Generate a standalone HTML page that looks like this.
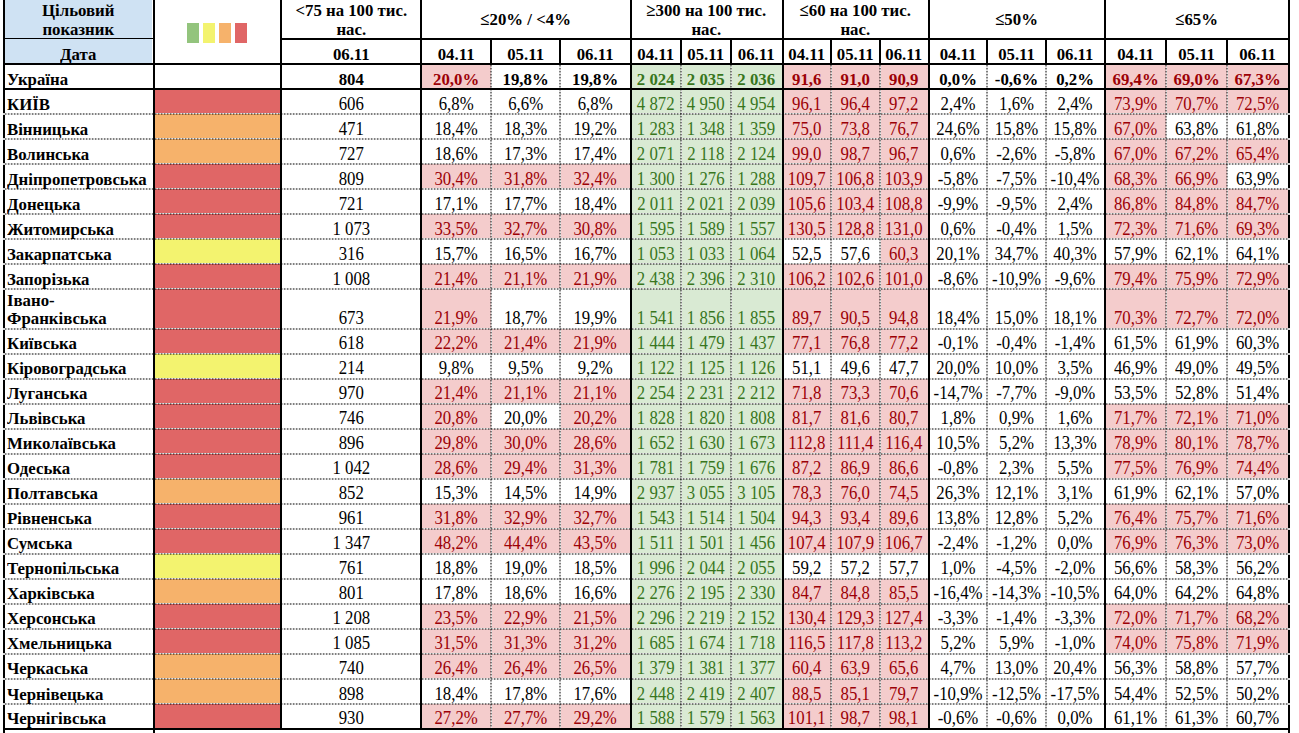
<!DOCTYPE html><html><head><meta charset="utf-8"><style>
html,body{margin:0;padding:0;background:#fff;width:1299px;height:733px;overflow:hidden;position:relative}
.f{position:absolute}
.l{position:absolute;background:#000}
.dh{position:absolute;height:2px;background:repeating-linear-gradient(90deg,rgba(0,0,0,.5) 0 1px,rgba(0,0,0,.25) 1px 2px,rgba(0,0,0,.1) 2px 3px)}
.dv{position:absolute;width:2px;background:repeating-linear-gradient(180deg,rgba(0,0,0,.5) 0 1px,rgba(0,0,0,.25) 1px 2px,rgba(0,0,0,.1) 2px 3px)}
.t{position:absolute;font-family:"Liberation Serif",serif;font-size:16.8px;line-height:20px;height:20px;white-space:nowrap;color:#000}
.c{text-align:center}
.t{transform:scaleY(1.1);transform-origin:0 15px}
.t.b{transform:scaleY(1.05)}
.b{font-weight:bold}
.rt{color:#9c0006}.gt{color:#38761d}
</style></head><body>
<div class="f" style="left:5px;top:0px;width:147px;height:38px;background:#cfe2f3"></div>
<div class="f" style="left:5px;top:39px;width:147px;height:24px;background:#cfe2f3"></div>
<div class="f" style="left:187px;top:23px;width:12px;height:20px;background:#93c47d"></div>
<div class="f" style="left:203px;top:23px;width:12px;height:20px;background:#f3f36f"></div>
<div class="f" style="left:219px;top:23px;width:12px;height:20px;background:#f6b26b"></div>
<div class="f" style="left:235px;top:23px;width:12px;height:20px;background:#e06666"></div>
<div class="f" style="left:422px;top:65px;width:69px;height:23px;background:#f4cccc"></div>
<div class="f" style="left:632px;top:65px;width:49px;height:23px;background:#d9ead3"></div>
<div class="f" style="left:784px;top:65px;width:47px;height:23px;background:#f4cccc"></div>
<div class="f" style="left:1106px;top:65px;width:60px;height:23px;background:#f4cccc"></div>
<div class="f" style="left:682px;top:65px;width:49px;height:23px;background:#d9ead3"></div>
<div class="f" style="left:832px;top:65px;width:48px;height:23px;background:#f4cccc"></div>
<div class="f" style="left:1167px;top:65px;width:60px;height:23px;background:#f4cccc"></div>
<div class="f" style="left:732px;top:65px;width:50px;height:23px;background:#d9ead3"></div>
<div class="f" style="left:881px;top:65px;width:47px;height:23px;background:#f4cccc"></div>
<div class="f" style="left:1228px;top:65px;width:60px;height:23px;background:#f4cccc"></div>
<div class="f" style="left:155px;top:90px;width:125px;height:23px;background:#e06666"></div>
<div class="f" style="left:632px;top:90px;width:49px;height:23px;background:#d9ead3"></div>
<div class="f" style="left:784px;top:90px;width:47px;height:23px;background:#f4cccc"></div>
<div class="f" style="left:1106px;top:90px;width:60px;height:23px;background:#f4cccc"></div>
<div class="f" style="left:682px;top:90px;width:49px;height:23px;background:#d9ead3"></div>
<div class="f" style="left:832px;top:90px;width:48px;height:23px;background:#f4cccc"></div>
<div class="f" style="left:1167px;top:90px;width:60px;height:23px;background:#f4cccc"></div>
<div class="f" style="left:732px;top:90px;width:50px;height:23px;background:#d9ead3"></div>
<div class="f" style="left:881px;top:90px;width:47px;height:23px;background:#f4cccc"></div>
<div class="f" style="left:1228px;top:90px;width:60px;height:23px;background:#f4cccc"></div>
<div class="f" style="left:155px;top:114px;width:125px;height:24px;background:#f6b26b"></div>
<div class="f" style="left:632px;top:114px;width:49px;height:24px;background:#d9ead3"></div>
<div class="f" style="left:784px;top:114px;width:47px;height:24px;background:#f4cccc"></div>
<div class="f" style="left:1106px;top:114px;width:60px;height:24px;background:#f4cccc"></div>
<div class="f" style="left:682px;top:114px;width:49px;height:24px;background:#d9ead3"></div>
<div class="f" style="left:832px;top:114px;width:48px;height:24px;background:#f4cccc"></div>
<div class="f" style="left:732px;top:114px;width:50px;height:24px;background:#d9ead3"></div>
<div class="f" style="left:881px;top:114px;width:47px;height:24px;background:#f4cccc"></div>
<div class="f" style="left:155px;top:139px;width:125px;height:24px;background:#f6b26b"></div>
<div class="f" style="left:632px;top:139px;width:49px;height:24px;background:#d9ead3"></div>
<div class="f" style="left:784px;top:139px;width:47px;height:24px;background:#f4cccc"></div>
<div class="f" style="left:1106px;top:139px;width:60px;height:24px;background:#f4cccc"></div>
<div class="f" style="left:682px;top:139px;width:49px;height:24px;background:#d9ead3"></div>
<div class="f" style="left:832px;top:139px;width:48px;height:24px;background:#f4cccc"></div>
<div class="f" style="left:1167px;top:139px;width:60px;height:24px;background:#f4cccc"></div>
<div class="f" style="left:732px;top:139px;width:50px;height:24px;background:#d9ead3"></div>
<div class="f" style="left:881px;top:139px;width:47px;height:24px;background:#f4cccc"></div>
<div class="f" style="left:1228px;top:139px;width:60px;height:24px;background:#f4cccc"></div>
<div class="f" style="left:155px;top:164px;width:125px;height:24px;background:#e06666"></div>
<div class="f" style="left:422px;top:164px;width:69px;height:24px;background:#f4cccc"></div>
<div class="f" style="left:632px;top:164px;width:49px;height:24px;background:#d9ead3"></div>
<div class="f" style="left:784px;top:164px;width:47px;height:24px;background:#f4cccc"></div>
<div class="f" style="left:1106px;top:164px;width:60px;height:24px;background:#f4cccc"></div>
<div class="f" style="left:492px;top:164px;width:68px;height:24px;background:#f4cccc"></div>
<div class="f" style="left:682px;top:164px;width:49px;height:24px;background:#d9ead3"></div>
<div class="f" style="left:832px;top:164px;width:48px;height:24px;background:#f4cccc"></div>
<div class="f" style="left:1167px;top:164px;width:60px;height:24px;background:#f4cccc"></div>
<div class="f" style="left:561px;top:164px;width:69px;height:24px;background:#f4cccc"></div>
<div class="f" style="left:732px;top:164px;width:50px;height:24px;background:#d9ead3"></div>
<div class="f" style="left:881px;top:164px;width:47px;height:24px;background:#f4cccc"></div>
<div class="f" style="left:155px;top:189px;width:125px;height:24px;background:#e06666"></div>
<div class="f" style="left:632px;top:189px;width:49px;height:24px;background:#d9ead3"></div>
<div class="f" style="left:784px;top:189px;width:47px;height:24px;background:#f4cccc"></div>
<div class="f" style="left:1106px;top:189px;width:60px;height:24px;background:#f4cccc"></div>
<div class="f" style="left:682px;top:189px;width:49px;height:24px;background:#d9ead3"></div>
<div class="f" style="left:832px;top:189px;width:48px;height:24px;background:#f4cccc"></div>
<div class="f" style="left:1167px;top:189px;width:60px;height:24px;background:#f4cccc"></div>
<div class="f" style="left:732px;top:189px;width:50px;height:24px;background:#d9ead3"></div>
<div class="f" style="left:881px;top:189px;width:47px;height:24px;background:#f4cccc"></div>
<div class="f" style="left:1228px;top:189px;width:60px;height:24px;background:#f4cccc"></div>
<div class="f" style="left:155px;top:214px;width:125px;height:24px;background:#e06666"></div>
<div class="f" style="left:422px;top:214px;width:69px;height:24px;background:#f4cccc"></div>
<div class="f" style="left:632px;top:214px;width:49px;height:24px;background:#d9ead3"></div>
<div class="f" style="left:784px;top:214px;width:47px;height:24px;background:#f4cccc"></div>
<div class="f" style="left:1106px;top:214px;width:60px;height:24px;background:#f4cccc"></div>
<div class="f" style="left:492px;top:214px;width:68px;height:24px;background:#f4cccc"></div>
<div class="f" style="left:682px;top:214px;width:49px;height:24px;background:#d9ead3"></div>
<div class="f" style="left:832px;top:214px;width:48px;height:24px;background:#f4cccc"></div>
<div class="f" style="left:1167px;top:214px;width:60px;height:24px;background:#f4cccc"></div>
<div class="f" style="left:561px;top:214px;width:69px;height:24px;background:#f4cccc"></div>
<div class="f" style="left:732px;top:214px;width:50px;height:24px;background:#d9ead3"></div>
<div class="f" style="left:881px;top:214px;width:47px;height:24px;background:#f4cccc"></div>
<div class="f" style="left:1228px;top:214px;width:60px;height:24px;background:#f4cccc"></div>
<div class="f" style="left:155px;top:239px;width:125px;height:24px;background:#f3f36f"></div>
<div class="f" style="left:632px;top:239px;width:49px;height:24px;background:#d9ead3"></div>
<div class="f" style="left:682px;top:239px;width:49px;height:24px;background:#d9ead3"></div>
<div class="f" style="left:732px;top:239px;width:50px;height:24px;background:#d9ead3"></div>
<div class="f" style="left:881px;top:239px;width:47px;height:24px;background:#f4cccc"></div>
<div class="f" style="left:155px;top:264px;width:125px;height:24px;background:#e06666"></div>
<div class="f" style="left:422px;top:264px;width:69px;height:24px;background:#f4cccc"></div>
<div class="f" style="left:632px;top:264px;width:49px;height:24px;background:#d9ead3"></div>
<div class="f" style="left:784px;top:264px;width:47px;height:24px;background:#f4cccc"></div>
<div class="f" style="left:1106px;top:264px;width:60px;height:24px;background:#f4cccc"></div>
<div class="f" style="left:492px;top:264px;width:68px;height:24px;background:#f4cccc"></div>
<div class="f" style="left:682px;top:264px;width:49px;height:24px;background:#d9ead3"></div>
<div class="f" style="left:832px;top:264px;width:48px;height:24px;background:#f4cccc"></div>
<div class="f" style="left:1167px;top:264px;width:60px;height:24px;background:#f4cccc"></div>
<div class="f" style="left:561px;top:264px;width:69px;height:24px;background:#f4cccc"></div>
<div class="f" style="left:732px;top:264px;width:50px;height:24px;background:#d9ead3"></div>
<div class="f" style="left:881px;top:264px;width:47px;height:24px;background:#f4cccc"></div>
<div class="f" style="left:1228px;top:264px;width:60px;height:24px;background:#f4cccc"></div>
<div class="f" style="left:155px;top:289px;width:125px;height:39px;background:#e06666"></div>
<div class="f" style="left:422px;top:289px;width:69px;height:39px;background:#f4cccc"></div>
<div class="f" style="left:632px;top:289px;width:49px;height:39px;background:#d9ead3"></div>
<div class="f" style="left:784px;top:289px;width:47px;height:39px;background:#f4cccc"></div>
<div class="f" style="left:1106px;top:289px;width:60px;height:39px;background:#f4cccc"></div>
<div class="f" style="left:682px;top:289px;width:49px;height:39px;background:#d9ead3"></div>
<div class="f" style="left:832px;top:289px;width:48px;height:39px;background:#f4cccc"></div>
<div class="f" style="left:1167px;top:289px;width:60px;height:39px;background:#f4cccc"></div>
<div class="f" style="left:732px;top:289px;width:50px;height:39px;background:#d9ead3"></div>
<div class="f" style="left:881px;top:289px;width:47px;height:39px;background:#f4cccc"></div>
<div class="f" style="left:1228px;top:289px;width:60px;height:39px;background:#f4cccc"></div>
<div class="f" style="left:155px;top:329px;width:125px;height:24px;background:#e06666"></div>
<div class="f" style="left:422px;top:329px;width:69px;height:24px;background:#f4cccc"></div>
<div class="f" style="left:632px;top:329px;width:49px;height:24px;background:#d9ead3"></div>
<div class="f" style="left:784px;top:329px;width:47px;height:24px;background:#f4cccc"></div>
<div class="f" style="left:492px;top:329px;width:68px;height:24px;background:#f4cccc"></div>
<div class="f" style="left:682px;top:329px;width:49px;height:24px;background:#d9ead3"></div>
<div class="f" style="left:832px;top:329px;width:48px;height:24px;background:#f4cccc"></div>
<div class="f" style="left:561px;top:329px;width:69px;height:24px;background:#f4cccc"></div>
<div class="f" style="left:732px;top:329px;width:50px;height:24px;background:#d9ead3"></div>
<div class="f" style="left:881px;top:329px;width:47px;height:24px;background:#f4cccc"></div>
<div class="f" style="left:155px;top:354px;width:125px;height:24px;background:#f3f36f"></div>
<div class="f" style="left:632px;top:354px;width:49px;height:24px;background:#d9ead3"></div>
<div class="f" style="left:682px;top:354px;width:49px;height:24px;background:#d9ead3"></div>
<div class="f" style="left:732px;top:354px;width:50px;height:24px;background:#d9ead3"></div>
<div class="f" style="left:155px;top:379px;width:125px;height:24px;background:#e06666"></div>
<div class="f" style="left:422px;top:379px;width:69px;height:24px;background:#f4cccc"></div>
<div class="f" style="left:632px;top:379px;width:49px;height:24px;background:#d9ead3"></div>
<div class="f" style="left:784px;top:379px;width:47px;height:24px;background:#f4cccc"></div>
<div class="f" style="left:492px;top:379px;width:68px;height:24px;background:#f4cccc"></div>
<div class="f" style="left:682px;top:379px;width:49px;height:24px;background:#d9ead3"></div>
<div class="f" style="left:832px;top:379px;width:48px;height:24px;background:#f4cccc"></div>
<div class="f" style="left:561px;top:379px;width:69px;height:24px;background:#f4cccc"></div>
<div class="f" style="left:732px;top:379px;width:50px;height:24px;background:#d9ead3"></div>
<div class="f" style="left:881px;top:379px;width:47px;height:24px;background:#f4cccc"></div>
<div class="f" style="left:155px;top:404px;width:125px;height:24px;background:#e06666"></div>
<div class="f" style="left:422px;top:404px;width:69px;height:24px;background:#f4cccc"></div>
<div class="f" style="left:632px;top:404px;width:49px;height:24px;background:#d9ead3"></div>
<div class="f" style="left:784px;top:404px;width:47px;height:24px;background:#f4cccc"></div>
<div class="f" style="left:1106px;top:404px;width:60px;height:24px;background:#f4cccc"></div>
<div class="f" style="left:682px;top:404px;width:49px;height:24px;background:#d9ead3"></div>
<div class="f" style="left:832px;top:404px;width:48px;height:24px;background:#f4cccc"></div>
<div class="f" style="left:1167px;top:404px;width:60px;height:24px;background:#f4cccc"></div>
<div class="f" style="left:561px;top:404px;width:69px;height:24px;background:#f4cccc"></div>
<div class="f" style="left:732px;top:404px;width:50px;height:24px;background:#d9ead3"></div>
<div class="f" style="left:881px;top:404px;width:47px;height:24px;background:#f4cccc"></div>
<div class="f" style="left:1228px;top:404px;width:60px;height:24px;background:#f4cccc"></div>
<div class="f" style="left:155px;top:429px;width:125px;height:24px;background:#e06666"></div>
<div class="f" style="left:422px;top:429px;width:69px;height:24px;background:#f4cccc"></div>
<div class="f" style="left:632px;top:429px;width:49px;height:24px;background:#d9ead3"></div>
<div class="f" style="left:784px;top:429px;width:47px;height:24px;background:#f4cccc"></div>
<div class="f" style="left:1106px;top:429px;width:60px;height:24px;background:#f4cccc"></div>
<div class="f" style="left:492px;top:429px;width:68px;height:24px;background:#f4cccc"></div>
<div class="f" style="left:682px;top:429px;width:49px;height:24px;background:#d9ead3"></div>
<div class="f" style="left:832px;top:429px;width:48px;height:24px;background:#f4cccc"></div>
<div class="f" style="left:1167px;top:429px;width:60px;height:24px;background:#f4cccc"></div>
<div class="f" style="left:561px;top:429px;width:69px;height:24px;background:#f4cccc"></div>
<div class="f" style="left:732px;top:429px;width:50px;height:24px;background:#d9ead3"></div>
<div class="f" style="left:881px;top:429px;width:47px;height:24px;background:#f4cccc"></div>
<div class="f" style="left:1228px;top:429px;width:60px;height:24px;background:#f4cccc"></div>
<div class="f" style="left:155px;top:454px;width:125px;height:24px;background:#e06666"></div>
<div class="f" style="left:422px;top:454px;width:69px;height:24px;background:#f4cccc"></div>
<div class="f" style="left:632px;top:454px;width:49px;height:24px;background:#d9ead3"></div>
<div class="f" style="left:784px;top:454px;width:47px;height:24px;background:#f4cccc"></div>
<div class="f" style="left:1106px;top:454px;width:60px;height:24px;background:#f4cccc"></div>
<div class="f" style="left:492px;top:454px;width:68px;height:24px;background:#f4cccc"></div>
<div class="f" style="left:682px;top:454px;width:49px;height:24px;background:#d9ead3"></div>
<div class="f" style="left:832px;top:454px;width:48px;height:24px;background:#f4cccc"></div>
<div class="f" style="left:1167px;top:454px;width:60px;height:24px;background:#f4cccc"></div>
<div class="f" style="left:561px;top:454px;width:69px;height:24px;background:#f4cccc"></div>
<div class="f" style="left:732px;top:454px;width:50px;height:24px;background:#d9ead3"></div>
<div class="f" style="left:881px;top:454px;width:47px;height:24px;background:#f4cccc"></div>
<div class="f" style="left:1228px;top:454px;width:60px;height:24px;background:#f4cccc"></div>
<div class="f" style="left:155px;top:479px;width:125px;height:24px;background:#f6b26b"></div>
<div class="f" style="left:632px;top:479px;width:49px;height:24px;background:#d9ead3"></div>
<div class="f" style="left:784px;top:479px;width:47px;height:24px;background:#f4cccc"></div>
<div class="f" style="left:682px;top:479px;width:49px;height:24px;background:#d9ead3"></div>
<div class="f" style="left:832px;top:479px;width:48px;height:24px;background:#f4cccc"></div>
<div class="f" style="left:732px;top:479px;width:50px;height:24px;background:#d9ead3"></div>
<div class="f" style="left:881px;top:479px;width:47px;height:24px;background:#f4cccc"></div>
<div class="f" style="left:155px;top:504px;width:125px;height:24px;background:#e06666"></div>
<div class="f" style="left:422px;top:504px;width:69px;height:24px;background:#f4cccc"></div>
<div class="f" style="left:632px;top:504px;width:49px;height:24px;background:#d9ead3"></div>
<div class="f" style="left:784px;top:504px;width:47px;height:24px;background:#f4cccc"></div>
<div class="f" style="left:1106px;top:504px;width:60px;height:24px;background:#f4cccc"></div>
<div class="f" style="left:492px;top:504px;width:68px;height:24px;background:#f4cccc"></div>
<div class="f" style="left:682px;top:504px;width:49px;height:24px;background:#d9ead3"></div>
<div class="f" style="left:832px;top:504px;width:48px;height:24px;background:#f4cccc"></div>
<div class="f" style="left:1167px;top:504px;width:60px;height:24px;background:#f4cccc"></div>
<div class="f" style="left:561px;top:504px;width:69px;height:24px;background:#f4cccc"></div>
<div class="f" style="left:732px;top:504px;width:50px;height:24px;background:#d9ead3"></div>
<div class="f" style="left:881px;top:504px;width:47px;height:24px;background:#f4cccc"></div>
<div class="f" style="left:1228px;top:504px;width:60px;height:24px;background:#f4cccc"></div>
<div class="f" style="left:155px;top:529px;width:125px;height:24px;background:#e06666"></div>
<div class="f" style="left:422px;top:529px;width:69px;height:24px;background:#f4cccc"></div>
<div class="f" style="left:632px;top:529px;width:49px;height:24px;background:#d9ead3"></div>
<div class="f" style="left:784px;top:529px;width:47px;height:24px;background:#f4cccc"></div>
<div class="f" style="left:1106px;top:529px;width:60px;height:24px;background:#f4cccc"></div>
<div class="f" style="left:492px;top:529px;width:68px;height:24px;background:#f4cccc"></div>
<div class="f" style="left:682px;top:529px;width:49px;height:24px;background:#d9ead3"></div>
<div class="f" style="left:832px;top:529px;width:48px;height:24px;background:#f4cccc"></div>
<div class="f" style="left:1167px;top:529px;width:60px;height:24px;background:#f4cccc"></div>
<div class="f" style="left:561px;top:529px;width:69px;height:24px;background:#f4cccc"></div>
<div class="f" style="left:732px;top:529px;width:50px;height:24px;background:#d9ead3"></div>
<div class="f" style="left:881px;top:529px;width:47px;height:24px;background:#f4cccc"></div>
<div class="f" style="left:1228px;top:529px;width:60px;height:24px;background:#f4cccc"></div>
<div class="f" style="left:155px;top:554px;width:125px;height:24px;background:#f3f36f"></div>
<div class="f" style="left:632px;top:554px;width:49px;height:24px;background:#d9ead3"></div>
<div class="f" style="left:682px;top:554px;width:49px;height:24px;background:#d9ead3"></div>
<div class="f" style="left:732px;top:554px;width:50px;height:24px;background:#d9ead3"></div>
<div class="f" style="left:155px;top:579px;width:125px;height:24px;background:#f6b26b"></div>
<div class="f" style="left:632px;top:579px;width:49px;height:24px;background:#d9ead3"></div>
<div class="f" style="left:784px;top:579px;width:47px;height:24px;background:#f4cccc"></div>
<div class="f" style="left:682px;top:579px;width:49px;height:24px;background:#d9ead3"></div>
<div class="f" style="left:832px;top:579px;width:48px;height:24px;background:#f4cccc"></div>
<div class="f" style="left:732px;top:579px;width:50px;height:24px;background:#d9ead3"></div>
<div class="f" style="left:881px;top:579px;width:47px;height:24px;background:#f4cccc"></div>
<div class="f" style="left:155px;top:604px;width:125px;height:24px;background:#e06666"></div>
<div class="f" style="left:422px;top:604px;width:69px;height:24px;background:#f4cccc"></div>
<div class="f" style="left:632px;top:604px;width:49px;height:24px;background:#d9ead3"></div>
<div class="f" style="left:784px;top:604px;width:47px;height:24px;background:#f4cccc"></div>
<div class="f" style="left:1106px;top:604px;width:60px;height:24px;background:#f4cccc"></div>
<div class="f" style="left:492px;top:604px;width:68px;height:24px;background:#f4cccc"></div>
<div class="f" style="left:682px;top:604px;width:49px;height:24px;background:#d9ead3"></div>
<div class="f" style="left:832px;top:604px;width:48px;height:24px;background:#f4cccc"></div>
<div class="f" style="left:1167px;top:604px;width:60px;height:24px;background:#f4cccc"></div>
<div class="f" style="left:561px;top:604px;width:69px;height:24px;background:#f4cccc"></div>
<div class="f" style="left:732px;top:604px;width:50px;height:24px;background:#d9ead3"></div>
<div class="f" style="left:881px;top:604px;width:47px;height:24px;background:#f4cccc"></div>
<div class="f" style="left:1228px;top:604px;width:60px;height:24px;background:#f4cccc"></div>
<div class="f" style="left:155px;top:629px;width:125px;height:24px;background:#e06666"></div>
<div class="f" style="left:422px;top:629px;width:69px;height:24px;background:#f4cccc"></div>
<div class="f" style="left:632px;top:629px;width:49px;height:24px;background:#d9ead3"></div>
<div class="f" style="left:784px;top:629px;width:47px;height:24px;background:#f4cccc"></div>
<div class="f" style="left:1106px;top:629px;width:60px;height:24px;background:#f4cccc"></div>
<div class="f" style="left:492px;top:629px;width:68px;height:24px;background:#f4cccc"></div>
<div class="f" style="left:682px;top:629px;width:49px;height:24px;background:#d9ead3"></div>
<div class="f" style="left:832px;top:629px;width:48px;height:24px;background:#f4cccc"></div>
<div class="f" style="left:1167px;top:629px;width:60px;height:24px;background:#f4cccc"></div>
<div class="f" style="left:561px;top:629px;width:69px;height:24px;background:#f4cccc"></div>
<div class="f" style="left:732px;top:629px;width:50px;height:24px;background:#d9ead3"></div>
<div class="f" style="left:881px;top:629px;width:47px;height:24px;background:#f4cccc"></div>
<div class="f" style="left:1228px;top:629px;width:60px;height:24px;background:#f4cccc"></div>
<div class="f" style="left:155px;top:654px;width:125px;height:24px;background:#f6b26b"></div>
<div class="f" style="left:422px;top:654px;width:69px;height:24px;background:#f4cccc"></div>
<div class="f" style="left:632px;top:654px;width:49px;height:24px;background:#d9ead3"></div>
<div class="f" style="left:784px;top:654px;width:47px;height:24px;background:#f4cccc"></div>
<div class="f" style="left:492px;top:654px;width:68px;height:24px;background:#f4cccc"></div>
<div class="f" style="left:682px;top:654px;width:49px;height:24px;background:#d9ead3"></div>
<div class="f" style="left:832px;top:654px;width:48px;height:24px;background:#f4cccc"></div>
<div class="f" style="left:561px;top:654px;width:69px;height:24px;background:#f4cccc"></div>
<div class="f" style="left:732px;top:654px;width:50px;height:24px;background:#d9ead3"></div>
<div class="f" style="left:881px;top:654px;width:47px;height:24px;background:#f4cccc"></div>
<div class="f" style="left:155px;top:679px;width:125px;height:24px;background:#f6b26b"></div>
<div class="f" style="left:632px;top:679px;width:49px;height:24px;background:#d9ead3"></div>
<div class="f" style="left:784px;top:679px;width:47px;height:24px;background:#f4cccc"></div>
<div class="f" style="left:682px;top:679px;width:49px;height:24px;background:#d9ead3"></div>
<div class="f" style="left:832px;top:679px;width:48px;height:24px;background:#f4cccc"></div>
<div class="f" style="left:732px;top:679px;width:50px;height:24px;background:#d9ead3"></div>
<div class="f" style="left:881px;top:679px;width:47px;height:24px;background:#f4cccc"></div>
<div class="f" style="left:155px;top:704px;width:125px;height:24px;background:#e06666"></div>
<div class="f" style="left:422px;top:704px;width:69px;height:24px;background:#f4cccc"></div>
<div class="f" style="left:632px;top:704px;width:49px;height:24px;background:#d9ead3"></div>
<div class="f" style="left:784px;top:704px;width:47px;height:24px;background:#f4cccc"></div>
<div class="f" style="left:492px;top:704px;width:68px;height:24px;background:#f4cccc"></div>
<div class="f" style="left:682px;top:704px;width:49px;height:24px;background:#d9ead3"></div>
<div class="f" style="left:832px;top:704px;width:48px;height:24px;background:#f4cccc"></div>
<div class="f" style="left:561px;top:704px;width:69px;height:24px;background:#f4cccc"></div>
<div class="f" style="left:732px;top:704px;width:50px;height:24px;background:#d9ead3"></div>
<div class="f" style="left:881px;top:704px;width:47px;height:24px;background:#f4cccc"></div>
<div class="dh" style="left:5px;top:113px;width:1283px"></div>
<div class="dh" style="left:5px;top:138px;width:1283px"></div>
<div class="dh" style="left:5px;top:163px;width:1283px"></div>
<div class="dh" style="left:5px;top:188px;width:1283px"></div>
<div class="dh" style="left:5px;top:213px;width:1283px"></div>
<div class="dh" style="left:5px;top:238px;width:1283px"></div>
<div class="dh" style="left:5px;top:263px;width:1283px"></div>
<div class="dh" style="left:5px;top:288px;width:1283px"></div>
<div class="dh" style="left:5px;top:328px;width:1283px"></div>
<div class="dh" style="left:5px;top:353px;width:1283px"></div>
<div class="dh" style="left:5px;top:378px;width:1283px"></div>
<div class="dh" style="left:5px;top:403px;width:1283px"></div>
<div class="dh" style="left:5px;top:428px;width:1283px"></div>
<div class="dh" style="left:5px;top:453px;width:1283px"></div>
<div class="dh" style="left:5px;top:478px;width:1283px"></div>
<div class="dh" style="left:5px;top:503px;width:1283px"></div>
<div class="dh" style="left:5px;top:528px;width:1283px"></div>
<div class="dh" style="left:5px;top:553px;width:1283px"></div>
<div class="dh" style="left:5px;top:578px;width:1283px"></div>
<div class="dh" style="left:5px;top:603px;width:1283px"></div>
<div class="dh" style="left:5px;top:628px;width:1283px"></div>
<div class="dh" style="left:5px;top:653px;width:1283px"></div>
<div class="dh" style="left:5px;top:678px;width:1283px"></div>
<div class="dh" style="left:5px;top:703px;width:1283px"></div>
<div class="dv" style="left:490px;top:65px;height:663px"></div>
<div class="dv" style="left:559px;top:65px;height:663px"></div>
<div class="dv" style="left:680px;top:65px;height:663px"></div>
<div class="dv" style="left:730px;top:65px;height:663px"></div>
<div class="dv" style="left:830px;top:65px;height:663px"></div>
<div class="dv" style="left:879px;top:65px;height:663px"></div>
<div class="dv" style="left:986px;top:65px;height:663px"></div>
<div class="dv" style="left:1045px;top:65px;height:663px"></div>
<div class="dv" style="left:1165px;top:65px;height:663px"></div>
<div class="dv" style="left:1226px;top:65px;height:663px"></div>
<div class="l" style="left:5px;top:38px;width:148px;height:1px"></div>
<div class="l" style="left:282px;top:38px;width:1006px;height:2px"></div>
<div class="l" style="left:3px;top:63px;width:1287px;height:2px"></div>
<div class="l" style="left:3px;top:88px;width:1287px;height:2px"></div>
<div class="l" style="left:3px;top:728px;width:1287px;height:2px"></div>
<div class="l" style="left:3px;top:0px;width:2px;height:733px"></div>
<div class="l" style="left:153px;top:0px;width:2px;height:733px"></div>
<div class="l" style="left:280px;top:0px;width:2px;height:730px"></div>
<div class="l" style="left:420px;top:0px;width:2px;height:730px"></div>
<div class="l" style="left:630px;top:0px;width:2px;height:730px"></div>
<div class="l" style="left:782px;top:0px;width:2px;height:730px"></div>
<div class="l" style="left:928px;top:0px;width:2px;height:730px"></div>
<div class="l" style="left:1104px;top:0px;width:2px;height:730px"></div>
<div class="l" style="left:1288px;top:0px;width:2px;height:733px"></div>
<div class="l" style="left:490px;top:39px;width:2px;height:26px"></div>
<div class="l" style="left:559px;top:39px;width:2px;height:26px"></div>
<div class="l" style="left:680px;top:39px;width:2px;height:26px"></div>
<div class="l" style="left:730px;top:39px;width:2px;height:26px"></div>
<div class="l" style="left:830px;top:39px;width:2px;height:26px"></div>
<div class="l" style="left:879px;top:39px;width:2px;height:26px"></div>
<div class="l" style="left:986px;top:39px;width:2px;height:26px"></div>
<div class="l" style="left:1045px;top:39px;width:2px;height:26px"></div>
<div class="l" style="left:1165px;top:39px;width:2px;height:26px"></div>
<div class="l" style="left:1226px;top:39px;width:2px;height:26px"></div>
<div class="t c b" style="left:4.25px;width:148.0px;top:1px">Цільовий</div>
<div class="t c b" style="left:4.25px;width:148.0px;top:20px">показник</div>
<div class="t c b" style="left:4.25px;width:148.0px;top:45px">Дата</div>
<div class="t c b" style="left:282.3px;width:138.0px;top:1px">&lt;75 на 100 тис.</div>
<div class="t c b" style="left:282.3px;width:138.0px;top:20px">нас.</div>
<div class="t c b" style="left:282.3px;width:138.0px;top:45px">06.11</div>
<div class="t c b" style="left:421.65px;width:208.0px;top:10px">≤20% / &lt;4%</div>
<div class="t c b" style="left:631.25px;width:150.0px;top:1px">≥300 на 100 тис.</div>
<div class="t c b" style="left:631.25px;width:150.0px;top:20px">нас.</div>
<div class="t c b" style="left:783.25px;width:144.0px;top:1px">≤60 на 100 тис.</div>
<div class="t c b" style="left:783.25px;width:144.0px;top:20px">нас.</div>
<div class="t c b" style="left:929.55px;width:174.0px;top:10px">≤50%</div>
<div class="t c b" style="left:1105.6px;width:182.0px;top:10px">≤65%</div>
<div class="t c b" style="left:421.65px;width:69.0px;top:45px">04.11</div>
<div class="t c b" style="left:491.65px;width:68.0px;top:45px">05.11</div>
<div class="t c b" style="left:560.65px;width:69.0px;top:45px">06.11</div>
<div class="t c b" style="left:631.25px;width:49.0px;top:45px">04.11</div>
<div class="t c b" style="left:681.25px;width:49.0px;top:45px">05.11</div>
<div class="t c b" style="left:731.25px;width:50.0px;top:45px">06.11</div>
<div class="t c b" style="left:783.25px;width:47.0px;top:45px">04.11</div>
<div class="t c b" style="left:831.25px;width:48.0px;top:45px">05.11</div>
<div class="t c b" style="left:880.25px;width:47.0px;top:45px">06.11</div>
<div class="t c b" style="left:929.55px;width:57.0px;top:45px">04.11</div>
<div class="t c b" style="left:987.55px;width:58.0px;top:45px">05.11</div>
<div class="t c b" style="left:1046.55px;width:57.0px;top:45px">06.11</div>
<div class="t c b" style="left:1105.6px;width:60.0px;top:45px">04.11</div>
<div class="t c b" style="left:1166.6px;width:60.0px;top:45px">05.11</div>
<div class="t c b" style="left:1227.6px;width:60.0px;top:45px">06.11</div>
<div class="t b" style="left:7px;top:70px">Україна</div>
<div class="t c b" style="left:282.3px;width:138.0px;top:70px">804</div>
<div class="t c b rt" style="left:421.65px;width:69.0px;top:70px">20,0%</div>
<div class="t c gt b" style="left:631.25px;width:49.0px;top:70px">2 024</div>
<div class="t c b rt" style="left:783.25px;width:47.0px;top:70px">91,6</div>
<div class="t c b" style="left:929.55px;width:57.0px;top:70px">0,0%</div>
<div class="t c b rt" style="left:1105.6px;width:60.0px;top:70px">69,4%</div>
<div class="t c b" style="left:491.65px;width:68.0px;top:70px">19,8%</div>
<div class="t c gt b" style="left:681.25px;width:49.0px;top:70px">2 035</div>
<div class="t c b rt" style="left:831.25px;width:48.0px;top:70px">91,0</div>
<div class="t c b" style="left:987.55px;width:58.0px;top:70px">-0,6%</div>
<div class="t c b rt" style="left:1166.6px;width:60.0px;top:70px">69,0%</div>
<div class="t c b" style="left:560.65px;width:69.0px;top:70px">19,8%</div>
<div class="t c gt b" style="left:731.25px;width:50.0px;top:70px">2 036</div>
<div class="t c b rt" style="left:880.25px;width:47.0px;top:70px">90,9</div>
<div class="t c b" style="left:1046.55px;width:57.0px;top:70px">0,2%</div>
<div class="t c b rt" style="left:1227.6px;width:60.0px;top:70px">67,3%</div>
<div class="t b" style="left:7px;top:95px">КИЇВ</div>
<div class="t c" style="left:282.3px;width:138.0px;top:95px">606</div>
<div class="t c" style="left:421.65px;width:69.0px;top:95px">6,8%</div>
<div class="t c gt" style="left:631.25px;width:49.0px;top:95px">4 872</div>
<div class="t c rt" style="left:783.25px;width:47.0px;top:95px">96,1</div>
<div class="t c" style="left:929.55px;width:57.0px;top:95px">2,4%</div>
<div class="t c rt" style="left:1105.6px;width:60.0px;top:95px">73,9%</div>
<div class="t c" style="left:491.65px;width:68.0px;top:95px">6,6%</div>
<div class="t c gt" style="left:681.25px;width:49.0px;top:95px">4 950</div>
<div class="t c rt" style="left:831.25px;width:48.0px;top:95px">96,4</div>
<div class="t c" style="left:987.55px;width:58.0px;top:95px">1,6%</div>
<div class="t c rt" style="left:1166.6px;width:60.0px;top:95px">70,7%</div>
<div class="t c" style="left:560.65px;width:69.0px;top:95px">6,8%</div>
<div class="t c gt" style="left:731.25px;width:50.0px;top:95px">4 954</div>
<div class="t c rt" style="left:880.25px;width:47.0px;top:95px">97,2</div>
<div class="t c" style="left:1046.55px;width:57.0px;top:95px">2,4%</div>
<div class="t c rt" style="left:1227.6px;width:60.0px;top:95px">72,5%</div>
<div class="t b" style="left:7px;top:120px">Вінницька</div>
<div class="t c" style="left:282.3px;width:138.0px;top:120px">471</div>
<div class="t c" style="left:421.65px;width:69.0px;top:120px">18,4%</div>
<div class="t c gt" style="left:631.25px;width:49.0px;top:120px">1 283</div>
<div class="t c rt" style="left:783.25px;width:47.0px;top:120px">75,0</div>
<div class="t c" style="left:929.55px;width:57.0px;top:120px">24,6%</div>
<div class="t c rt" style="left:1105.6px;width:60.0px;top:120px">67,0%</div>
<div class="t c" style="left:491.65px;width:68.0px;top:120px">18,3%</div>
<div class="t c gt" style="left:681.25px;width:49.0px;top:120px">1 348</div>
<div class="t c rt" style="left:831.25px;width:48.0px;top:120px">73,8</div>
<div class="t c" style="left:987.55px;width:58.0px;top:120px">15,8%</div>
<div class="t c" style="left:1166.6px;width:60.0px;top:120px">63,8%</div>
<div class="t c" style="left:560.65px;width:69.0px;top:120px">19,2%</div>
<div class="t c gt" style="left:731.25px;width:50.0px;top:120px">1 359</div>
<div class="t c rt" style="left:880.25px;width:47.0px;top:120px">76,7</div>
<div class="t c" style="left:1046.55px;width:57.0px;top:120px">15,8%</div>
<div class="t c" style="left:1227.6px;width:60.0px;top:120px">61,8%</div>
<div class="t b" style="left:7px;top:145px">Волинська</div>
<div class="t c" style="left:282.3px;width:138.0px;top:145px">727</div>
<div class="t c" style="left:421.65px;width:69.0px;top:145px">18,6%</div>
<div class="t c gt" style="left:631.25px;width:49.0px;top:145px">2 071</div>
<div class="t c rt" style="left:783.25px;width:47.0px;top:145px">99,0</div>
<div class="t c" style="left:929.55px;width:57.0px;top:145px">0,6%</div>
<div class="t c rt" style="left:1105.6px;width:60.0px;top:145px">67,0%</div>
<div class="t c" style="left:491.65px;width:68.0px;top:145px">17,3%</div>
<div class="t c gt" style="left:681.25px;width:49.0px;top:145px">2 118</div>
<div class="t c rt" style="left:831.25px;width:48.0px;top:145px">98,7</div>
<div class="t c" style="left:987.55px;width:58.0px;top:145px">-2,6%</div>
<div class="t c rt" style="left:1166.6px;width:60.0px;top:145px">67,2%</div>
<div class="t c" style="left:560.65px;width:69.0px;top:145px">17,4%</div>
<div class="t c gt" style="left:731.25px;width:50.0px;top:145px">2 124</div>
<div class="t c rt" style="left:880.25px;width:47.0px;top:145px">96,7</div>
<div class="t c" style="left:1046.55px;width:57.0px;top:145px">-5,8%</div>
<div class="t c rt" style="left:1227.6px;width:60.0px;top:145px">65,4%</div>
<div class="t b" style="left:7px;top:170px">Дніпропетровська</div>
<div class="t c" style="left:282.3px;width:138.0px;top:170px">809</div>
<div class="t c rt" style="left:421.65px;width:69.0px;top:170px">30,4%</div>
<div class="t c gt" style="left:631.25px;width:49.0px;top:170px">1 300</div>
<div class="t c rt" style="left:783.25px;width:47.0px;top:170px">109,7</div>
<div class="t c" style="left:929.55px;width:57.0px;top:170px">-5,8%</div>
<div class="t c rt" style="left:1105.6px;width:60.0px;top:170px">68,3%</div>
<div class="t c rt" style="left:491.65px;width:68.0px;top:170px">31,8%</div>
<div class="t c gt" style="left:681.25px;width:49.0px;top:170px">1 276</div>
<div class="t c rt" style="left:831.25px;width:48.0px;top:170px">106,8</div>
<div class="t c" style="left:987.55px;width:58.0px;top:170px">-7,5%</div>
<div class="t c rt" style="left:1166.6px;width:60.0px;top:170px">66,9%</div>
<div class="t c rt" style="left:560.65px;width:69.0px;top:170px">32,4%</div>
<div class="t c gt" style="left:731.25px;width:50.0px;top:170px">1 288</div>
<div class="t c rt" style="left:880.25px;width:47.0px;top:170px">103,9</div>
<div class="t c" style="left:1046.55px;width:57.0px;top:170px">-10,4%</div>
<div class="t c" style="left:1227.6px;width:60.0px;top:170px">63,9%</div>
<div class="t b" style="left:7px;top:195px">Донецька</div>
<div class="t c" style="left:282.3px;width:138.0px;top:195px">721</div>
<div class="t c" style="left:421.65px;width:69.0px;top:195px">17,1%</div>
<div class="t c gt" style="left:631.25px;width:49.0px;top:195px">2 011</div>
<div class="t c rt" style="left:783.25px;width:47.0px;top:195px">105,6</div>
<div class="t c" style="left:929.55px;width:57.0px;top:195px">-9,9%</div>
<div class="t c rt" style="left:1105.6px;width:60.0px;top:195px">86,8%</div>
<div class="t c" style="left:491.65px;width:68.0px;top:195px">17,7%</div>
<div class="t c gt" style="left:681.25px;width:49.0px;top:195px">2 021</div>
<div class="t c rt" style="left:831.25px;width:48.0px;top:195px">103,4</div>
<div class="t c" style="left:987.55px;width:58.0px;top:195px">-9,5%</div>
<div class="t c rt" style="left:1166.6px;width:60.0px;top:195px">84,8%</div>
<div class="t c" style="left:560.65px;width:69.0px;top:195px">18,4%</div>
<div class="t c gt" style="left:731.25px;width:50.0px;top:195px">2 039</div>
<div class="t c rt" style="left:880.25px;width:47.0px;top:195px">108,8</div>
<div class="t c" style="left:1046.55px;width:57.0px;top:195px">2,4%</div>
<div class="t c rt" style="left:1227.6px;width:60.0px;top:195px">84,7%</div>
<div class="t b" style="left:7px;top:220px">Житомирська</div>
<div class="t c" style="left:282.3px;width:138.0px;top:220px">1 073</div>
<div class="t c rt" style="left:421.65px;width:69.0px;top:220px">33,5%</div>
<div class="t c gt" style="left:631.25px;width:49.0px;top:220px">1 595</div>
<div class="t c rt" style="left:783.25px;width:47.0px;top:220px">130,5</div>
<div class="t c" style="left:929.55px;width:57.0px;top:220px">0,6%</div>
<div class="t c rt" style="left:1105.6px;width:60.0px;top:220px">72,3%</div>
<div class="t c rt" style="left:491.65px;width:68.0px;top:220px">32,7%</div>
<div class="t c gt" style="left:681.25px;width:49.0px;top:220px">1 589</div>
<div class="t c rt" style="left:831.25px;width:48.0px;top:220px">128,8</div>
<div class="t c" style="left:987.55px;width:58.0px;top:220px">-0,4%</div>
<div class="t c rt" style="left:1166.6px;width:60.0px;top:220px">71,6%</div>
<div class="t c rt" style="left:560.65px;width:69.0px;top:220px">30,8%</div>
<div class="t c gt" style="left:731.25px;width:50.0px;top:220px">1 557</div>
<div class="t c rt" style="left:880.25px;width:47.0px;top:220px">131,0</div>
<div class="t c" style="left:1046.55px;width:57.0px;top:220px">1,5%</div>
<div class="t c rt" style="left:1227.6px;width:60.0px;top:220px">69,3%</div>
<div class="t b" style="left:7px;top:245px">Закарпатська</div>
<div class="t c" style="left:282.3px;width:138.0px;top:245px">316</div>
<div class="t c" style="left:421.65px;width:69.0px;top:245px">15,7%</div>
<div class="t c gt" style="left:631.25px;width:49.0px;top:245px">1 053</div>
<div class="t c" style="left:783.25px;width:47.0px;top:245px">52,5</div>
<div class="t c" style="left:929.55px;width:57.0px;top:245px">20,1%</div>
<div class="t c" style="left:1105.6px;width:60.0px;top:245px">57,9%</div>
<div class="t c" style="left:491.65px;width:68.0px;top:245px">16,5%</div>
<div class="t c gt" style="left:681.25px;width:49.0px;top:245px">1 033</div>
<div class="t c" style="left:831.25px;width:48.0px;top:245px">57,6</div>
<div class="t c" style="left:987.55px;width:58.0px;top:245px">34,7%</div>
<div class="t c" style="left:1166.6px;width:60.0px;top:245px">62,1%</div>
<div class="t c" style="left:560.65px;width:69.0px;top:245px">16,7%</div>
<div class="t c gt" style="left:731.25px;width:50.0px;top:245px">1 064</div>
<div class="t c rt" style="left:880.25px;width:47.0px;top:245px">60,3</div>
<div class="t c" style="left:1046.55px;width:57.0px;top:245px">40,3%</div>
<div class="t c" style="left:1227.6px;width:60.0px;top:245px">64,1%</div>
<div class="t b" style="left:7px;top:270px">Запорізька</div>
<div class="t c" style="left:282.3px;width:138.0px;top:270px">1 008</div>
<div class="t c rt" style="left:421.65px;width:69.0px;top:270px">21,4%</div>
<div class="t c gt" style="left:631.25px;width:49.0px;top:270px">2 438</div>
<div class="t c rt" style="left:783.25px;width:47.0px;top:270px">106,2</div>
<div class="t c" style="left:929.55px;width:57.0px;top:270px">-8,6%</div>
<div class="t c rt" style="left:1105.6px;width:60.0px;top:270px">79,4%</div>
<div class="t c rt" style="left:491.65px;width:68.0px;top:270px">21,1%</div>
<div class="t c gt" style="left:681.25px;width:49.0px;top:270px">2 396</div>
<div class="t c rt" style="left:831.25px;width:48.0px;top:270px">102,6</div>
<div class="t c" style="left:987.55px;width:58.0px;top:270px">-10,9%</div>
<div class="t c rt" style="left:1166.6px;width:60.0px;top:270px">75,9%</div>
<div class="t c rt" style="left:560.65px;width:69.0px;top:270px">21,9%</div>
<div class="t c gt" style="left:731.25px;width:50.0px;top:270px">2 310</div>
<div class="t c rt" style="left:880.25px;width:47.0px;top:270px">101,0</div>
<div class="t c" style="left:1046.55px;width:57.0px;top:270px">-9,6%</div>
<div class="t c rt" style="left:1227.6px;width:60.0px;top:270px">72,9%</div>
<div class="t b" style="left:7px;top:291px">Івано-</div>
<div class="t b" style="left:7px;top:309px">Франківська</div>
<div class="t c" style="left:282.3px;width:138.0px;top:309px">673</div>
<div class="t c rt" style="left:421.65px;width:69.0px;top:309px">21,9%</div>
<div class="t c gt" style="left:631.25px;width:49.0px;top:309px">1 541</div>
<div class="t c rt" style="left:783.25px;width:47.0px;top:309px">89,7</div>
<div class="t c" style="left:929.55px;width:57.0px;top:309px">18,4%</div>
<div class="t c rt" style="left:1105.6px;width:60.0px;top:309px">70,3%</div>
<div class="t c" style="left:491.65px;width:68.0px;top:309px">18,7%</div>
<div class="t c gt" style="left:681.25px;width:49.0px;top:309px">1 856</div>
<div class="t c rt" style="left:831.25px;width:48.0px;top:309px">90,5</div>
<div class="t c" style="left:987.55px;width:58.0px;top:309px">15,0%</div>
<div class="t c rt" style="left:1166.6px;width:60.0px;top:309px">72,7%</div>
<div class="t c" style="left:560.65px;width:69.0px;top:309px">19,9%</div>
<div class="t c gt" style="left:731.25px;width:50.0px;top:309px">1 855</div>
<div class="t c rt" style="left:880.25px;width:47.0px;top:309px">94,8</div>
<div class="t c" style="left:1046.55px;width:57.0px;top:309px">18,1%</div>
<div class="t c rt" style="left:1227.6px;width:60.0px;top:309px">72,0%</div>
<div class="t b" style="left:7px;top:334px">Київська</div>
<div class="t c" style="left:282.3px;width:138.0px;top:334px">618</div>
<div class="t c rt" style="left:421.65px;width:69.0px;top:334px">22,2%</div>
<div class="t c gt" style="left:631.25px;width:49.0px;top:334px">1 444</div>
<div class="t c rt" style="left:783.25px;width:47.0px;top:334px">77,1</div>
<div class="t c" style="left:929.55px;width:57.0px;top:334px">-0,1%</div>
<div class="t c" style="left:1105.6px;width:60.0px;top:334px">61,5%</div>
<div class="t c rt" style="left:491.65px;width:68.0px;top:334px">21,4%</div>
<div class="t c gt" style="left:681.25px;width:49.0px;top:334px">1 479</div>
<div class="t c rt" style="left:831.25px;width:48.0px;top:334px">76,8</div>
<div class="t c" style="left:987.55px;width:58.0px;top:334px">-0,4%</div>
<div class="t c" style="left:1166.6px;width:60.0px;top:334px">61,9%</div>
<div class="t c rt" style="left:560.65px;width:69.0px;top:334px">21,9%</div>
<div class="t c gt" style="left:731.25px;width:50.0px;top:334px">1 437</div>
<div class="t c rt" style="left:880.25px;width:47.0px;top:334px">77,2</div>
<div class="t c" style="left:1046.55px;width:57.0px;top:334px">-1,4%</div>
<div class="t c" style="left:1227.6px;width:60.0px;top:334px">60,3%</div>
<div class="t b" style="left:7px;top:359px">Кіровоградська</div>
<div class="t c" style="left:282.3px;width:138.0px;top:359px">214</div>
<div class="t c" style="left:421.65px;width:69.0px;top:359px">9,8%</div>
<div class="t c gt" style="left:631.25px;width:49.0px;top:359px">1 122</div>
<div class="t c" style="left:783.25px;width:47.0px;top:359px">51,1</div>
<div class="t c" style="left:929.55px;width:57.0px;top:359px">20,0%</div>
<div class="t c" style="left:1105.6px;width:60.0px;top:359px">46,9%</div>
<div class="t c" style="left:491.65px;width:68.0px;top:359px">9,5%</div>
<div class="t c gt" style="left:681.25px;width:49.0px;top:359px">1 125</div>
<div class="t c" style="left:831.25px;width:48.0px;top:359px">49,6</div>
<div class="t c" style="left:987.55px;width:58.0px;top:359px">10,0%</div>
<div class="t c" style="left:1166.6px;width:60.0px;top:359px">49,0%</div>
<div class="t c" style="left:560.65px;width:69.0px;top:359px">9,2%</div>
<div class="t c gt" style="left:731.25px;width:50.0px;top:359px">1 126</div>
<div class="t c" style="left:880.25px;width:47.0px;top:359px">47,7</div>
<div class="t c" style="left:1046.55px;width:57.0px;top:359px">3,5%</div>
<div class="t c" style="left:1227.6px;width:60.0px;top:359px">49,5%</div>
<div class="t b" style="left:7px;top:384px">Луганська</div>
<div class="t c" style="left:282.3px;width:138.0px;top:384px">970</div>
<div class="t c rt" style="left:421.65px;width:69.0px;top:384px">21,4%</div>
<div class="t c gt" style="left:631.25px;width:49.0px;top:384px">2 254</div>
<div class="t c rt" style="left:783.25px;width:47.0px;top:384px">71,8</div>
<div class="t c" style="left:929.55px;width:57.0px;top:384px">-14,7%</div>
<div class="t c" style="left:1105.6px;width:60.0px;top:384px">53,5%</div>
<div class="t c rt" style="left:491.65px;width:68.0px;top:384px">21,1%</div>
<div class="t c gt" style="left:681.25px;width:49.0px;top:384px">2 231</div>
<div class="t c rt" style="left:831.25px;width:48.0px;top:384px">73,3</div>
<div class="t c" style="left:987.55px;width:58.0px;top:384px">-7,7%</div>
<div class="t c" style="left:1166.6px;width:60.0px;top:384px">52,8%</div>
<div class="t c rt" style="left:560.65px;width:69.0px;top:384px">21,1%</div>
<div class="t c gt" style="left:731.25px;width:50.0px;top:384px">2 212</div>
<div class="t c rt" style="left:880.25px;width:47.0px;top:384px">70,6</div>
<div class="t c" style="left:1046.55px;width:57.0px;top:384px">-9,0%</div>
<div class="t c" style="left:1227.6px;width:60.0px;top:384px">51,4%</div>
<div class="t b" style="left:7px;top:409px">Львівська</div>
<div class="t c" style="left:282.3px;width:138.0px;top:409px">746</div>
<div class="t c rt" style="left:421.65px;width:69.0px;top:409px">20,8%</div>
<div class="t c gt" style="left:631.25px;width:49.0px;top:409px">1 828</div>
<div class="t c rt" style="left:783.25px;width:47.0px;top:409px">81,7</div>
<div class="t c" style="left:929.55px;width:57.0px;top:409px">1,8%</div>
<div class="t c rt" style="left:1105.6px;width:60.0px;top:409px">71,7%</div>
<div class="t c" style="left:491.65px;width:68.0px;top:409px">20,0%</div>
<div class="t c gt" style="left:681.25px;width:49.0px;top:409px">1 820</div>
<div class="t c rt" style="left:831.25px;width:48.0px;top:409px">81,6</div>
<div class="t c" style="left:987.55px;width:58.0px;top:409px">0,9%</div>
<div class="t c rt" style="left:1166.6px;width:60.0px;top:409px">72,1%</div>
<div class="t c rt" style="left:560.65px;width:69.0px;top:409px">20,2%</div>
<div class="t c gt" style="left:731.25px;width:50.0px;top:409px">1 808</div>
<div class="t c rt" style="left:880.25px;width:47.0px;top:409px">80,7</div>
<div class="t c" style="left:1046.55px;width:57.0px;top:409px">1,6%</div>
<div class="t c rt" style="left:1227.6px;width:60.0px;top:409px">71,0%</div>
<div class="t b" style="left:7px;top:434px">Миколаївська</div>
<div class="t c" style="left:282.3px;width:138.0px;top:434px">896</div>
<div class="t c rt" style="left:421.65px;width:69.0px;top:434px">29,8%</div>
<div class="t c gt" style="left:631.25px;width:49.0px;top:434px">1 652</div>
<div class="t c rt" style="left:783.25px;width:47.0px;top:434px">112,8</div>
<div class="t c" style="left:929.55px;width:57.0px;top:434px">10,5%</div>
<div class="t c rt" style="left:1105.6px;width:60.0px;top:434px">78,9%</div>
<div class="t c rt" style="left:491.65px;width:68.0px;top:434px">30,0%</div>
<div class="t c gt" style="left:681.25px;width:49.0px;top:434px">1 630</div>
<div class="t c rt" style="left:831.25px;width:48.0px;top:434px">111,4</div>
<div class="t c" style="left:987.55px;width:58.0px;top:434px">5,2%</div>
<div class="t c rt" style="left:1166.6px;width:60.0px;top:434px">80,1%</div>
<div class="t c rt" style="left:560.65px;width:69.0px;top:434px">28,6%</div>
<div class="t c gt" style="left:731.25px;width:50.0px;top:434px">1 673</div>
<div class="t c rt" style="left:880.25px;width:47.0px;top:434px">116,4</div>
<div class="t c" style="left:1046.55px;width:57.0px;top:434px">13,3%</div>
<div class="t c rt" style="left:1227.6px;width:60.0px;top:434px">78,7%</div>
<div class="t b" style="left:7px;top:459px">Одеська</div>
<div class="t c" style="left:282.3px;width:138.0px;top:459px">1 042</div>
<div class="t c rt" style="left:421.65px;width:69.0px;top:459px">28,6%</div>
<div class="t c gt" style="left:631.25px;width:49.0px;top:459px">1 781</div>
<div class="t c rt" style="left:783.25px;width:47.0px;top:459px">87,2</div>
<div class="t c" style="left:929.55px;width:57.0px;top:459px">-0,8%</div>
<div class="t c rt" style="left:1105.6px;width:60.0px;top:459px">77,5%</div>
<div class="t c rt" style="left:491.65px;width:68.0px;top:459px">29,4%</div>
<div class="t c gt" style="left:681.25px;width:49.0px;top:459px">1 759</div>
<div class="t c rt" style="left:831.25px;width:48.0px;top:459px">86,9</div>
<div class="t c" style="left:987.55px;width:58.0px;top:459px">2,3%</div>
<div class="t c rt" style="left:1166.6px;width:60.0px;top:459px">76,9%</div>
<div class="t c rt" style="left:560.65px;width:69.0px;top:459px">31,3%</div>
<div class="t c gt" style="left:731.25px;width:50.0px;top:459px">1 676</div>
<div class="t c rt" style="left:880.25px;width:47.0px;top:459px">86,6</div>
<div class="t c" style="left:1046.55px;width:57.0px;top:459px">5,5%</div>
<div class="t c rt" style="left:1227.6px;width:60.0px;top:459px">74,4%</div>
<div class="t b" style="left:7px;top:484px">Полтавська</div>
<div class="t c" style="left:282.3px;width:138.0px;top:484px">852</div>
<div class="t c" style="left:421.65px;width:69.0px;top:484px">15,3%</div>
<div class="t c gt" style="left:631.25px;width:49.0px;top:484px">2 937</div>
<div class="t c rt" style="left:783.25px;width:47.0px;top:484px">78,3</div>
<div class="t c" style="left:929.55px;width:57.0px;top:484px">26,3%</div>
<div class="t c" style="left:1105.6px;width:60.0px;top:484px">61,9%</div>
<div class="t c" style="left:491.65px;width:68.0px;top:484px">14,5%</div>
<div class="t c gt" style="left:681.25px;width:49.0px;top:484px">3 055</div>
<div class="t c rt" style="left:831.25px;width:48.0px;top:484px">76,0</div>
<div class="t c" style="left:987.55px;width:58.0px;top:484px">12,1%</div>
<div class="t c" style="left:1166.6px;width:60.0px;top:484px">62,1%</div>
<div class="t c" style="left:560.65px;width:69.0px;top:484px">14,9%</div>
<div class="t c gt" style="left:731.25px;width:50.0px;top:484px">3 105</div>
<div class="t c rt" style="left:880.25px;width:47.0px;top:484px">74,5</div>
<div class="t c" style="left:1046.55px;width:57.0px;top:484px">3,1%</div>
<div class="t c" style="left:1227.6px;width:60.0px;top:484px">57,0%</div>
<div class="t b" style="left:7px;top:509px">Рівненська</div>
<div class="t c" style="left:282.3px;width:138.0px;top:509px">961</div>
<div class="t c rt" style="left:421.65px;width:69.0px;top:509px">31,8%</div>
<div class="t c gt" style="left:631.25px;width:49.0px;top:509px">1 543</div>
<div class="t c rt" style="left:783.25px;width:47.0px;top:509px">94,3</div>
<div class="t c" style="left:929.55px;width:57.0px;top:509px">13,8%</div>
<div class="t c rt" style="left:1105.6px;width:60.0px;top:509px">76,4%</div>
<div class="t c rt" style="left:491.65px;width:68.0px;top:509px">32,9%</div>
<div class="t c gt" style="left:681.25px;width:49.0px;top:509px">1 514</div>
<div class="t c rt" style="left:831.25px;width:48.0px;top:509px">93,4</div>
<div class="t c" style="left:987.55px;width:58.0px;top:509px">12,8%</div>
<div class="t c rt" style="left:1166.6px;width:60.0px;top:509px">75,7%</div>
<div class="t c rt" style="left:560.65px;width:69.0px;top:509px">32,7%</div>
<div class="t c gt" style="left:731.25px;width:50.0px;top:509px">1 504</div>
<div class="t c rt" style="left:880.25px;width:47.0px;top:509px">89,6</div>
<div class="t c" style="left:1046.55px;width:57.0px;top:509px">5,2%</div>
<div class="t c rt" style="left:1227.6px;width:60.0px;top:509px">71,6%</div>
<div class="t b" style="left:7px;top:534px">Сумська</div>
<div class="t c" style="left:282.3px;width:138.0px;top:534px">1 347</div>
<div class="t c rt" style="left:421.65px;width:69.0px;top:534px">48,2%</div>
<div class="t c gt" style="left:631.25px;width:49.0px;top:534px">1 511</div>
<div class="t c rt" style="left:783.25px;width:47.0px;top:534px">107,4</div>
<div class="t c" style="left:929.55px;width:57.0px;top:534px">-2,4%</div>
<div class="t c rt" style="left:1105.6px;width:60.0px;top:534px">76,9%</div>
<div class="t c rt" style="left:491.65px;width:68.0px;top:534px">44,4%</div>
<div class="t c gt" style="left:681.25px;width:49.0px;top:534px">1 501</div>
<div class="t c rt" style="left:831.25px;width:48.0px;top:534px">107,9</div>
<div class="t c" style="left:987.55px;width:58.0px;top:534px">-1,2%</div>
<div class="t c rt" style="left:1166.6px;width:60.0px;top:534px">76,3%</div>
<div class="t c rt" style="left:560.65px;width:69.0px;top:534px">43,5%</div>
<div class="t c gt" style="left:731.25px;width:50.0px;top:534px">1 456</div>
<div class="t c rt" style="left:880.25px;width:47.0px;top:534px">106,7</div>
<div class="t c" style="left:1046.55px;width:57.0px;top:534px">0,0%</div>
<div class="t c rt" style="left:1227.6px;width:60.0px;top:534px">73,0%</div>
<div class="t b" style="left:7px;top:559px">Тернопільська</div>
<div class="t c" style="left:282.3px;width:138.0px;top:559px">761</div>
<div class="t c" style="left:421.65px;width:69.0px;top:559px">18,8%</div>
<div class="t c gt" style="left:631.25px;width:49.0px;top:559px">1 996</div>
<div class="t c" style="left:783.25px;width:47.0px;top:559px">59,2</div>
<div class="t c" style="left:929.55px;width:57.0px;top:559px">1,0%</div>
<div class="t c" style="left:1105.6px;width:60.0px;top:559px">56,6%</div>
<div class="t c" style="left:491.65px;width:68.0px;top:559px">19,0%</div>
<div class="t c gt" style="left:681.25px;width:49.0px;top:559px">2 044</div>
<div class="t c" style="left:831.25px;width:48.0px;top:559px">57,2</div>
<div class="t c" style="left:987.55px;width:58.0px;top:559px">-4,5%</div>
<div class="t c" style="left:1166.6px;width:60.0px;top:559px">58,3%</div>
<div class="t c" style="left:560.65px;width:69.0px;top:559px">18,5%</div>
<div class="t c gt" style="left:731.25px;width:50.0px;top:559px">2 055</div>
<div class="t c" style="left:880.25px;width:47.0px;top:559px">57,7</div>
<div class="t c" style="left:1046.55px;width:57.0px;top:559px">-2,0%</div>
<div class="t c" style="left:1227.6px;width:60.0px;top:559px">56,2%</div>
<div class="t b" style="left:7px;top:584px">Харківська</div>
<div class="t c" style="left:282.3px;width:138.0px;top:584px">801</div>
<div class="t c" style="left:421.65px;width:69.0px;top:584px">17,8%</div>
<div class="t c gt" style="left:631.25px;width:49.0px;top:584px">2 276</div>
<div class="t c rt" style="left:783.25px;width:47.0px;top:584px">84,7</div>
<div class="t c" style="left:929.55px;width:57.0px;top:584px">-16,4%</div>
<div class="t c" style="left:1105.6px;width:60.0px;top:584px">64,0%</div>
<div class="t c" style="left:491.65px;width:68.0px;top:584px">18,6%</div>
<div class="t c gt" style="left:681.25px;width:49.0px;top:584px">2 195</div>
<div class="t c rt" style="left:831.25px;width:48.0px;top:584px">84,8</div>
<div class="t c" style="left:987.55px;width:58.0px;top:584px">-14,3%</div>
<div class="t c" style="left:1166.6px;width:60.0px;top:584px">64,2%</div>
<div class="t c" style="left:560.65px;width:69.0px;top:584px">16,6%</div>
<div class="t c gt" style="left:731.25px;width:50.0px;top:584px">2 330</div>
<div class="t c rt" style="left:880.25px;width:47.0px;top:584px">85,5</div>
<div class="t c" style="left:1046.55px;width:57.0px;top:584px">-10,5%</div>
<div class="t c" style="left:1227.6px;width:60.0px;top:584px">64,8%</div>
<div class="t b" style="left:7px;top:609px">Херсонська</div>
<div class="t c" style="left:282.3px;width:138.0px;top:609px">1 208</div>
<div class="t c rt" style="left:421.65px;width:69.0px;top:609px">23,5%</div>
<div class="t c gt" style="left:631.25px;width:49.0px;top:609px">2 296</div>
<div class="t c rt" style="left:783.25px;width:47.0px;top:609px">130,4</div>
<div class="t c" style="left:929.55px;width:57.0px;top:609px">-3,3%</div>
<div class="t c rt" style="left:1105.6px;width:60.0px;top:609px">72,0%</div>
<div class="t c rt" style="left:491.65px;width:68.0px;top:609px">22,9%</div>
<div class="t c gt" style="left:681.25px;width:49.0px;top:609px">2 219</div>
<div class="t c rt" style="left:831.25px;width:48.0px;top:609px">129,3</div>
<div class="t c" style="left:987.55px;width:58.0px;top:609px">-1,4%</div>
<div class="t c rt" style="left:1166.6px;width:60.0px;top:609px">71,7%</div>
<div class="t c rt" style="left:560.65px;width:69.0px;top:609px">21,5%</div>
<div class="t c gt" style="left:731.25px;width:50.0px;top:609px">2 152</div>
<div class="t c rt" style="left:880.25px;width:47.0px;top:609px">127,4</div>
<div class="t c" style="left:1046.55px;width:57.0px;top:609px">-3,3%</div>
<div class="t c rt" style="left:1227.6px;width:60.0px;top:609px">68,2%</div>
<div class="t b" style="left:7px;top:634px">Хмельницька</div>
<div class="t c" style="left:282.3px;width:138.0px;top:634px">1 085</div>
<div class="t c rt" style="left:421.65px;width:69.0px;top:634px">31,5%</div>
<div class="t c gt" style="left:631.25px;width:49.0px;top:634px">1 685</div>
<div class="t c rt" style="left:783.25px;width:47.0px;top:634px">116,5</div>
<div class="t c" style="left:929.55px;width:57.0px;top:634px">5,2%</div>
<div class="t c rt" style="left:1105.6px;width:60.0px;top:634px">74,0%</div>
<div class="t c rt" style="left:491.65px;width:68.0px;top:634px">31,3%</div>
<div class="t c gt" style="left:681.25px;width:49.0px;top:634px">1 674</div>
<div class="t c rt" style="left:831.25px;width:48.0px;top:634px">117,8</div>
<div class="t c" style="left:987.55px;width:58.0px;top:634px">5,9%</div>
<div class="t c rt" style="left:1166.6px;width:60.0px;top:634px">75,8%</div>
<div class="t c rt" style="left:560.65px;width:69.0px;top:634px">31,2%</div>
<div class="t c gt" style="left:731.25px;width:50.0px;top:634px">1 718</div>
<div class="t c rt" style="left:880.25px;width:47.0px;top:634px">113,2</div>
<div class="t c" style="left:1046.55px;width:57.0px;top:634px">-1,0%</div>
<div class="t c rt" style="left:1227.6px;width:60.0px;top:634px">71,9%</div>
<div class="t b" style="left:7px;top:659px">Черкаська</div>
<div class="t c" style="left:282.3px;width:138.0px;top:659px">740</div>
<div class="t c rt" style="left:421.65px;width:69.0px;top:659px">26,4%</div>
<div class="t c gt" style="left:631.25px;width:49.0px;top:659px">1 379</div>
<div class="t c rt" style="left:783.25px;width:47.0px;top:659px">60,4</div>
<div class="t c" style="left:929.55px;width:57.0px;top:659px">4,7%</div>
<div class="t c" style="left:1105.6px;width:60.0px;top:659px">56,3%</div>
<div class="t c rt" style="left:491.65px;width:68.0px;top:659px">26,4%</div>
<div class="t c gt" style="left:681.25px;width:49.0px;top:659px">1 381</div>
<div class="t c rt" style="left:831.25px;width:48.0px;top:659px">63,9</div>
<div class="t c" style="left:987.55px;width:58.0px;top:659px">13,0%</div>
<div class="t c" style="left:1166.6px;width:60.0px;top:659px">58,8%</div>
<div class="t c rt" style="left:560.65px;width:69.0px;top:659px">26,5%</div>
<div class="t c gt" style="left:731.25px;width:50.0px;top:659px">1 377</div>
<div class="t c rt" style="left:880.25px;width:47.0px;top:659px">65,6</div>
<div class="t c" style="left:1046.55px;width:57.0px;top:659px">20,4%</div>
<div class="t c" style="left:1227.6px;width:60.0px;top:659px">57,7%</div>
<div class="t b" style="left:7px;top:685px">Чернівецька</div>
<div class="t c" style="left:282.3px;width:138.0px;top:685px">898</div>
<div class="t c" style="left:421.65px;width:69.0px;top:685px">18,4%</div>
<div class="t c gt" style="left:631.25px;width:49.0px;top:685px">2 448</div>
<div class="t c rt" style="left:783.25px;width:47.0px;top:685px">88,5</div>
<div class="t c" style="left:929.55px;width:57.0px;top:685px">-10,9%</div>
<div class="t c" style="left:1105.6px;width:60.0px;top:685px">54,4%</div>
<div class="t c" style="left:491.65px;width:68.0px;top:685px">17,8%</div>
<div class="t c gt" style="left:681.25px;width:49.0px;top:685px">2 419</div>
<div class="t c rt" style="left:831.25px;width:48.0px;top:685px">85,1</div>
<div class="t c" style="left:987.55px;width:58.0px;top:685px">-12,5%</div>
<div class="t c" style="left:1166.6px;width:60.0px;top:685px">52,5%</div>
<div class="t c" style="left:560.65px;width:69.0px;top:685px">17,6%</div>
<div class="t c gt" style="left:731.25px;width:50.0px;top:685px">2 407</div>
<div class="t c rt" style="left:880.25px;width:47.0px;top:685px">79,7</div>
<div class="t c" style="left:1046.55px;width:57.0px;top:685px">-17,5%</div>
<div class="t c" style="left:1227.6px;width:60.0px;top:685px">50,2%</div>
<div class="t b" style="left:7px;top:709px">Чернігівська</div>
<div class="t c" style="left:282.3px;width:138.0px;top:709px">930</div>
<div class="t c rt" style="left:421.65px;width:69.0px;top:709px">27,2%</div>
<div class="t c gt" style="left:631.25px;width:49.0px;top:709px">1 588</div>
<div class="t c rt" style="left:783.25px;width:47.0px;top:709px">101,1</div>
<div class="t c" style="left:929.55px;width:57.0px;top:709px">-0,6%</div>
<div class="t c" style="left:1105.6px;width:60.0px;top:709px">61,1%</div>
<div class="t c rt" style="left:491.65px;width:68.0px;top:709px">27,7%</div>
<div class="t c gt" style="left:681.25px;width:49.0px;top:709px">1 579</div>
<div class="t c rt" style="left:831.25px;width:48.0px;top:709px">98,7</div>
<div class="t c" style="left:987.55px;width:58.0px;top:709px">-0,6%</div>
<div class="t c" style="left:1166.6px;width:60.0px;top:709px">61,3%</div>
<div class="t c rt" style="left:560.65px;width:69.0px;top:709px">29,2%</div>
<div class="t c gt" style="left:731.25px;width:50.0px;top:709px">1 563</div>
<div class="t c rt" style="left:880.25px;width:47.0px;top:709px">98,1</div>
<div class="t c" style="left:1046.55px;width:57.0px;top:709px">0,0%</div>
<div class="t c" style="left:1227.6px;width:60.0px;top:709px">60,7%</div>
<div class="f" style="left:3px;top:113px;width:2px;height:2px;background:#d4d4d4"></div>
<div class="f" style="left:1288px;top:113px;width:2px;height:2px;background:#d4d4d4"></div>
<div class="f" style="left:3px;top:138px;width:2px;height:2px;background:#d4d4d4"></div>
<div class="f" style="left:1288px;top:138px;width:2px;height:2px;background:#d4d4d4"></div>
<div class="f" style="left:3px;top:163px;width:2px;height:2px;background:#d4d4d4"></div>
<div class="f" style="left:1288px;top:163px;width:2px;height:2px;background:#d4d4d4"></div>
<div class="f" style="left:3px;top:188px;width:2px;height:2px;background:#d4d4d4"></div>
<div class="f" style="left:1288px;top:188px;width:2px;height:2px;background:#d4d4d4"></div>
<div class="f" style="left:3px;top:213px;width:2px;height:2px;background:#d4d4d4"></div>
<div class="f" style="left:1288px;top:213px;width:2px;height:2px;background:#d4d4d4"></div>
<div class="f" style="left:3px;top:238px;width:2px;height:2px;background:#d4d4d4"></div>
<div class="f" style="left:1288px;top:238px;width:2px;height:2px;background:#d4d4d4"></div>
<div class="f" style="left:3px;top:263px;width:2px;height:2px;background:#d4d4d4"></div>
<div class="f" style="left:1288px;top:263px;width:2px;height:2px;background:#d4d4d4"></div>
<div class="f" style="left:3px;top:288px;width:2px;height:2px;background:#d4d4d4"></div>
<div class="f" style="left:1288px;top:288px;width:2px;height:2px;background:#d4d4d4"></div>
<div class="f" style="left:3px;top:328px;width:2px;height:2px;background:#d4d4d4"></div>
<div class="f" style="left:1288px;top:328px;width:2px;height:2px;background:#d4d4d4"></div>
<div class="f" style="left:3px;top:353px;width:2px;height:2px;background:#d4d4d4"></div>
<div class="f" style="left:1288px;top:353px;width:2px;height:2px;background:#d4d4d4"></div>
<div class="f" style="left:3px;top:378px;width:2px;height:2px;background:#d4d4d4"></div>
<div class="f" style="left:1288px;top:378px;width:2px;height:2px;background:#d4d4d4"></div>
<div class="f" style="left:3px;top:403px;width:2px;height:2px;background:#d4d4d4"></div>
<div class="f" style="left:1288px;top:403px;width:2px;height:2px;background:#d4d4d4"></div>
<div class="f" style="left:3px;top:428px;width:2px;height:2px;background:#d4d4d4"></div>
<div class="f" style="left:1288px;top:428px;width:2px;height:2px;background:#d4d4d4"></div>
<div class="f" style="left:3px;top:453px;width:2px;height:2px;background:#d4d4d4"></div>
<div class="f" style="left:1288px;top:453px;width:2px;height:2px;background:#d4d4d4"></div>
<div class="f" style="left:3px;top:478px;width:2px;height:2px;background:#d4d4d4"></div>
<div class="f" style="left:1288px;top:478px;width:2px;height:2px;background:#d4d4d4"></div>
<div class="f" style="left:3px;top:503px;width:2px;height:2px;background:#d4d4d4"></div>
<div class="f" style="left:1288px;top:503px;width:2px;height:2px;background:#d4d4d4"></div>
<div class="f" style="left:3px;top:528px;width:2px;height:2px;background:#d4d4d4"></div>
<div class="f" style="left:1288px;top:528px;width:2px;height:2px;background:#d4d4d4"></div>
<div class="f" style="left:3px;top:553px;width:2px;height:2px;background:#d4d4d4"></div>
<div class="f" style="left:1288px;top:553px;width:2px;height:2px;background:#d4d4d4"></div>
<div class="f" style="left:3px;top:578px;width:2px;height:2px;background:#d4d4d4"></div>
<div class="f" style="left:1288px;top:578px;width:2px;height:2px;background:#d4d4d4"></div>
<div class="f" style="left:3px;top:603px;width:2px;height:2px;background:#d4d4d4"></div>
<div class="f" style="left:1288px;top:603px;width:2px;height:2px;background:#d4d4d4"></div>
<div class="f" style="left:3px;top:628px;width:2px;height:2px;background:#d4d4d4"></div>
<div class="f" style="left:1288px;top:628px;width:2px;height:2px;background:#d4d4d4"></div>
<div class="f" style="left:3px;top:653px;width:2px;height:2px;background:#d4d4d4"></div>
<div class="f" style="left:1288px;top:653px;width:2px;height:2px;background:#d4d4d4"></div>
<div class="f" style="left:3px;top:678px;width:2px;height:2px;background:#d4d4d4"></div>
<div class="f" style="left:1288px;top:678px;width:2px;height:2px;background:#d4d4d4"></div>
<div class="f" style="left:3px;top:703px;width:2px;height:2px;background:#d4d4d4"></div>
<div class="f" style="left:1288px;top:703px;width:2px;height:2px;background:#d4d4d4"></div>
</body></html>
